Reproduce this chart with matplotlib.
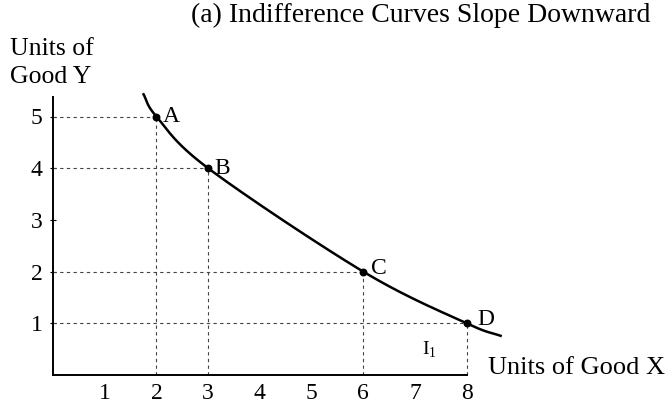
import numpy as np
import matplotlib
matplotlib.use("Agg")
import matplotlib.pyplot as plt

plt.rcParams['font.family'] = ['Liberation Serif', 'DejaVu Serif']

# bundles on the indifference curve
point_names = ["A", "B", "C", "D"]
good_x = [2, 3, 6, 8]
good_y = [5, 4, 2, 1]

# where the drawn curve starts and ends
curve_start = (1.74, 5.45)
curve_end = (8.68, 0.75)

x_ticks = [1, 2, 3, 4, 5, 6, 7, 8]
y_ticks = [1, 2, 3, 4, 5]


def catmull_rom(px, py, n=40):
    """Smooth curve passing through every (px, py) knot."""
    px = np.asarray(px, float)
    py = np.asarray(py, float)
    # pad the ends so the spline reaches the first and last knot
    px = np.r_[2 * px[0] - px[1], px, 2 * px[-1] - px[-2]]
    py = np.r_[2 * py[0] - py[1], py, 2 * py[-1] - py[-2]]
    xs, ys = [], []
    t = np.linspace(0, 1, n)
    for i in range(1, len(px) - 2):
        for arr, out in ((px, xs), (py, ys)):
            p0, p1, p2, p3 = arr[i - 1:i + 3]
            out.append(0.5 * ((2 * p1) + (-p0 + p2) * t
                              + (2 * p0 - 5 * p1 + 4 * p2 - p3) * t ** 2
                              + (-p0 + 3 * p1 - 3 * p2 + p3) * t ** 3))
    return np.concatenate(xs), np.concatenate(ys)


fig = plt.figure(figsize=(6.7, 4.07), dpi=100)
W, H = 670, 407
ax = fig.add_axes([53 / W, 32 / H, 9.5 * 51.7 / W, 5.6 * 51.7 / H])
ax.set_xlim(0, 9.5)
ax.set_ylim(0, 5.6)

for side in ("top", "right"):
    ax.spines[side].set_visible(False)
ax.spines["left"].set_bounds(0, 5.38)
ax.spines["bottom"].set_bounds(0, 8)
ax.spines["left"].set_linewidth(1.4)
ax.spines["bottom"].set_linewidth(1.4)

ax.set_xticks(x_ticks)
ax.set_yticks(y_ticks)
ax.tick_params(axis="x", length=0, pad=6, labelsize=17)
ax.tick_params(axis="y", direction="inout", length=5, width=0.8, pad=5, labelsize=17)

# dashed guides from each bundle to the axes
for x, y in zip(good_x, good_y):
    ax.plot([0, x], [y, y], color="#444444", lw=0.8, ls=(0, (3, 3)))
    ax.plot([x, x], [0, y], color="#444444", lw=0.8, ls=(0, (3, 3)))

cx, cy = catmull_rom([curve_start[0]] + good_x + [curve_end[0]],
                     [curve_start[1]] + good_y + [curve_end[1]])
ax.plot(cx, cy, color="black", lw=1.8, solid_capstyle="butt")
ax.scatter(good_x, good_y, s=22, color="black", zorder=3)

label_offsets = {"A": (6, 0), "B": (6, 0), "C": (8, 3), "D": (11, 4)}
for name, x, y in zip(point_names, good_x, good_y):
    ax.annotate(name, (x, y), xytext=label_offsets[name], textcoords="offset pixels",
                ha="left", va="center", fontsize=17)

ax.text(7.27, 0.48, r"I$_{\mathregular{1}}$", ha="center", va="center", fontsize=14)
ax.text(8.41, 0.13, "Units of Good X", ha="left", va="center", fontsize=19)

fig.text(10 / W, 1 - 63 / H, "Units of\nGood Y", ha="left", va="center",
         fontsize=18.5, linespacing=1.4)
fig.text(421 / W, 1 - 15 / H, "(a) Indifference Curves Slope Downward",
         ha="center", va="center", fontsize=20)

fig.savefig("out.png", dpi=100)
